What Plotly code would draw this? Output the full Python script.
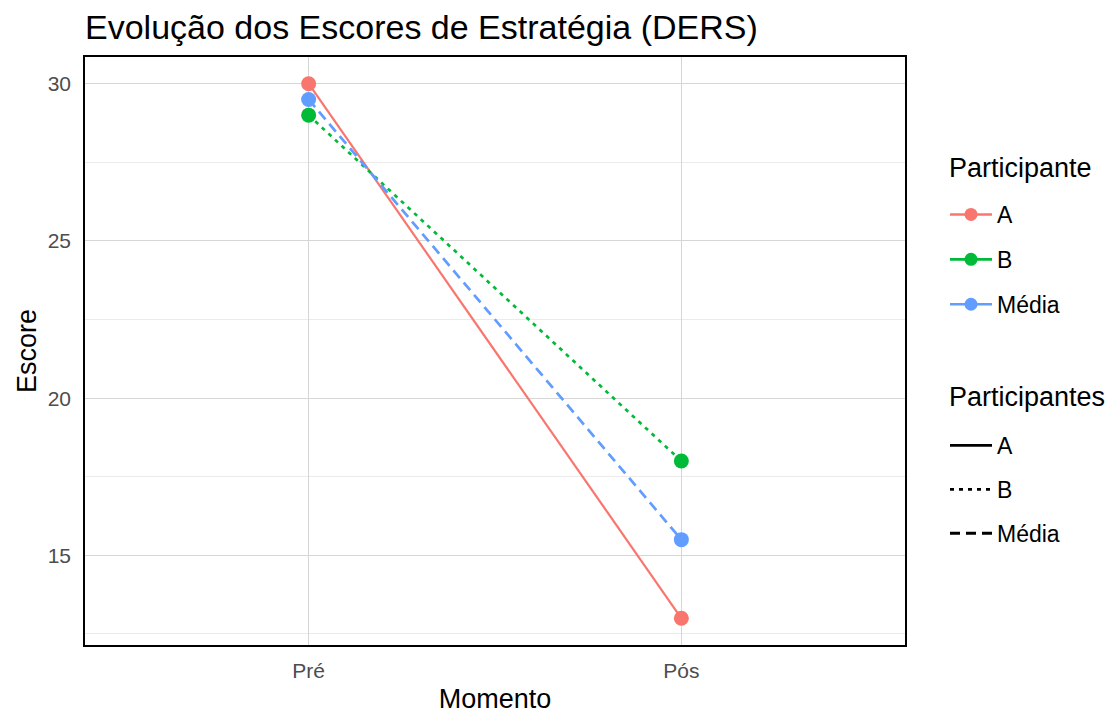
import plotly.graph_objects as go

momentos = ["Pré", "Pós"]
participantes = ["A", "B", "Média"]
escore_A = [30, 13]
escore_B = [29, 18]
escore_media = [29.5, 15.5]
cores = {"A": "#F8766D", "B": "#00BA38", "Média": "#619CFF"}
tracos = {"A": "solid", "B": "4px,5px", "Média": "10px,6px"}
larguras = {"A": 2.2, "B": 2.7, "Média": 2.7}
valores = {"A": escore_A, "B": escore_B, "Média": escore_media}

# page body has an 8px margin, so the figure is placed at (8, 8)
OFF = 8
W, H = 1116 - OFF, 717 - OFF
FONT = "Liberation Sans, Arial, sans-serif"


def cx(px):
    return (px - OFF) / W


def cy(py):
    return 1 - (py - OFF) / H


fig = go.Figure()

for p in participantes:
    fig.add_trace(go.Scatter(
        x=momentos, y=valores[p], mode="lines+markers",
        line=dict(color=cores[p], width=larguras[p], dash=tracos[p]),
        marker=dict(color=cores[p], size=15),
        showlegend=False, name=p,
    ))

# colour legend entries
for p in participantes:
    fig.add_trace(go.Scatter(
        x=[None], y=[None], mode="lines+markers", name=p,
        line=dict(color=cores[p], width=2.6),
        marker=dict(color=cores[p], size=13),
        legend="legend", legendgroup="c" + p, showlegend=True,
    ))
# linetype legend entries
for p in participantes:
    fig.add_trace(go.Scatter(
        x=[None], y=[None], mode="lines", name=p,
        line=dict(color="black", width=2.8, dash=tracos[p]),
        legend="legend2", legendgroup="l" + p, showlegend=True,
    ))

fig.update_layout(
    width=W, height=H,
    margin=dict(l=85 - OFF, r=W - (905 - OFF), t=57 - OFF, b=H - (645 - OFF)),
    plot_bgcolor="white", paper_bgcolor="white",
    font=dict(family=FONT, color="black"),
    title=dict(text="Evolução dos Escores de Estratégia (DERS)",
               x=cx(85), xanchor="left", xref="container",
               y=cy(27), yanchor="middle", yref="container",
               font=dict(size=34, color="black", family=FONT)),
    xaxis=dict(
        type="category", categoryorder="array", categoryarray=momentos,
        range=[-0.6, 1.6], showgrid=True, gridcolor="#D6D6D6", gridwidth=1.2,
        zeroline=False, showline=True, linecolor="black", linewidth=1.5, mirror=True,
        ticks="", tickfont=dict(size=21, color="#4D4D4D"), ticklabelstandoff=6,
        automargin=False,
        title=dict(text="Momento", font=dict(size=27, color="black"), standoff=8),
    ),
    yaxis=dict(
        range=[12.15, 30.85], tickvals=[15, 20, 25, 30],
        showgrid=True, gridcolor="#D6D6D6", gridwidth=1.2,
        minor=dict(tickvals=[12.5, 17.5, 22.5, 27.5], showgrid=True,
                   gridcolor="#EBEBEB", gridwidth=1),
        zeroline=False, showline=True, linecolor="black", linewidth=1.5, mirror=True,
        ticks="", tickfont=dict(size=21, color="#4D4D4D"), ticklabelstandoff=8,
        automargin=False,
        title=dict(text="Escore", font=dict(size=27, color="black"), standoff=3),
    ),
    legend=dict(
        xref="container", yref="container",
        x=cx(945), y=cy(193), xanchor="left", yanchor="top",
        font=dict(size=23), tracegroupgap=12, bgcolor="rgba(0,0,0,0)",
        itemwidth=42,
    ),
    legend2=dict(
        xref="container", yref="container",
        x=cx(945), y=cy(424), xanchor="left", yanchor="top",
        font=dict(size=23), tracegroupgap=11, bgcolor="rgba(0,0,0,0)",
        itemwidth=42,
    ),
    annotations=[
        dict(text="Participante", xref="paper", yref="paper",
             x=(947 - 85) / (905 - 85), y=1 - (168 - 57) / (645 - 57),
             xanchor="left", yanchor="middle", showarrow=False,
             font=dict(size=27, color="black")),
        dict(text="Participantes", xref="paper", yref="paper",
             x=(947 - 85) / (905 - 85), y=1 - (397 - 57) / (645 - 57),
             xanchor="left", yanchor="middle", showarrow=False,
             font=dict(size=27, color="black")),
    ],
)

fig.write_html("out.html")
